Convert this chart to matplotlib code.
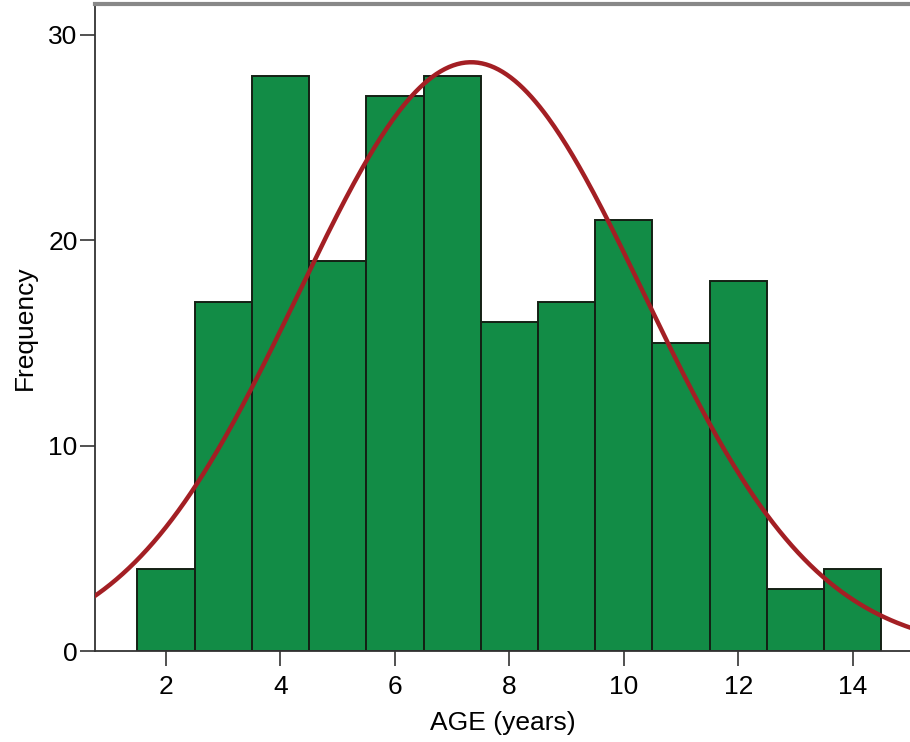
import numpy as np
import matplotlib
matplotlib.use('Agg')
import matplotlib.pyplot as plt

# histogram counts (bin centres = ages)
ages = [2, 3, 4, 5, 6, 7, 8, 9, 10, 11, 12, 13, 14]
counts = [4, 17, 28, 19, 27, 28, 16, 17, 21, 15, 18, 3, 4]
x_ticks = [2, 4, 6, 8, 10, 12, 14]
y_ticks = [0, 10, 20, 30]

plt.rcParams['font.family'] = ['Liberation Sans', 'DejaVu Sans']

fig = plt.figure(figsize=(9.1, 7.42), dpi=100)
ax = fig.add_axes([0.1044, 0.1226, 0.8956, 0.872])

ax.bar(ages, counts, width=1.0, color='#128c46', edgecolor='#142014', linewidth=1.4, zorder=2)

# normal curve fitted to the data
a = np.array(ages, dtype=float)
c = np.array(counts, dtype=float)
n = c.sum()
mu = (a * c).sum() / n
sd = np.sqrt((c * (a - mu) ** 2).sum() / (n - 1))
xs = np.linspace(0.7, 15.1, 400)
ys = n * 1.0 * np.exp(-0.5 * ((xs - mu) / sd) ** 2) / (sd * np.sqrt(2 * np.pi))
ax.plot(xs, ys, color='#a31f24', linewidth=3.2, zorder=3)

ax.set_xlim(0.76, 15.0)
ax.set_ylim(0, 31.5)
ax.set_xticks(x_ticks)
ax.set_yticks(y_ticks)
ax.tick_params(axis='x', length=11, width=1.2, pad=6, labelsize=19, color='#333333')
ax.tick_params(axis='y', length=11, width=1.2, pad=1.5, labelsize=19, color='#333333')

ax.spines['right'].set_visible(False)
ax.spines['top'].set_color('#888888')
ax.spines['top'].set_linewidth(3)
ax.spines['left'].set_color('#333333')
ax.spines['left'].set_linewidth(1.3)
ax.spines['bottom'].set_color('#333333')
ax.spines['bottom'].set_linewidth(1.3)

ax.set_xlabel('AGE (years)', fontsize=19, labelpad=9)
ax.set_ylabel('Frequency', fontsize=19, labelpad=8)

fig.savefig('out.png', dpi=100)
